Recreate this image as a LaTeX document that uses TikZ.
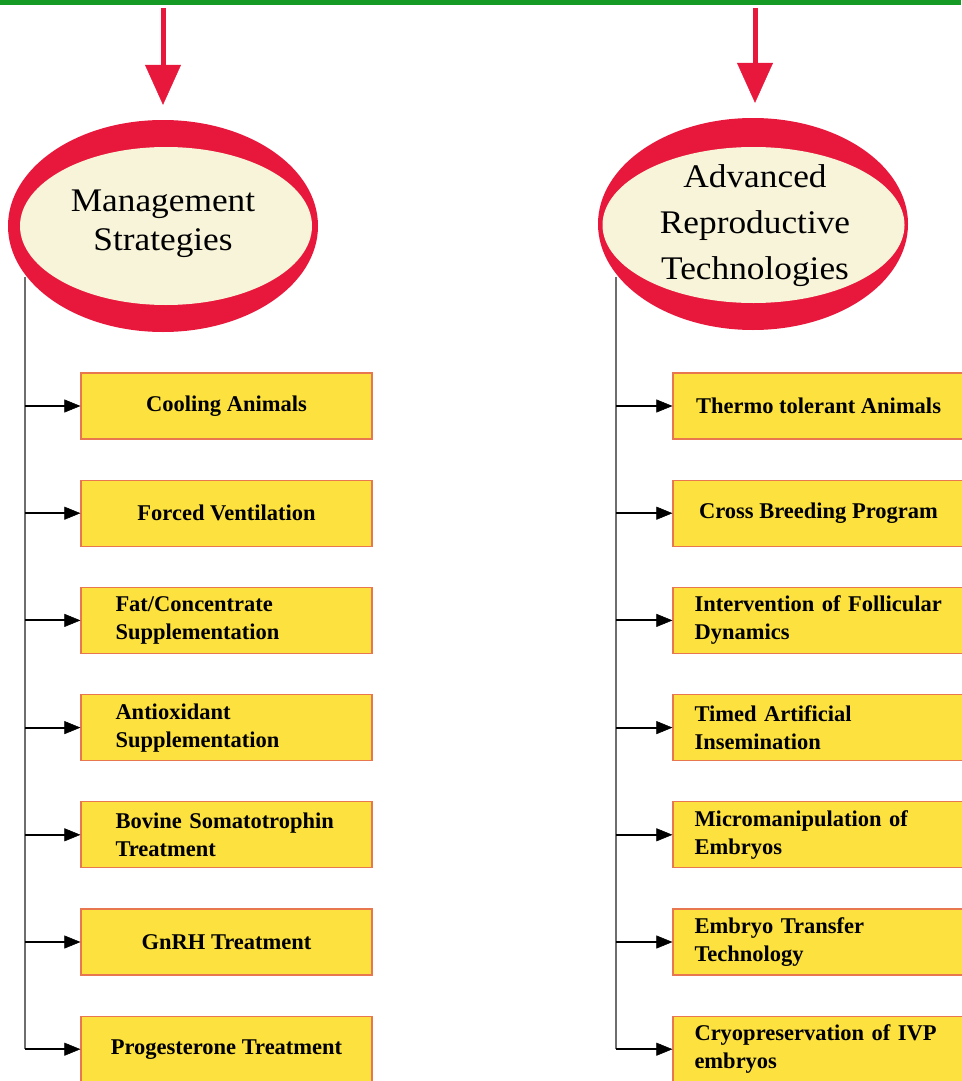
\documentclass[tikz,border=0pt]{standalone}
\usepackage{fontspec}
\setmainfont{Liberation Serif}
\newfontfamily\ovalfont[FakeStretch=1.07]{Liberation Serif}
\usetikzlibrary{shapes.geometric,arrows.meta,positioning}

\definecolor{ovalred}{HTML}{E8173C}
\definecolor{ovalcream}{HTML}{F8F4DA}
\definecolor{boxfill}{HTML}{FDE23F}
\definecolor{boxedge}{HTML}{E8764E}
\definecolor{trunkgray}{HTML}{6E6E6E}
\definecolor{topgreen}{HTML}{159A25}

\tikzset{
  oval/.style={ellipse, fill=ovalred, inner sep=0pt, minimum width=310pt, minimum height=212pt},
  ovalin/.style={ellipse, fill=ovalcream, inner sep=0pt},
  ovaltext/.style={inner sep=0pt, align=center},
  feed/.style={ovalred, line width=5pt, shorten >=15pt,
    -{Triangle[length=40pt,width=36pt,line width=0.5pt]}},
  trunk/.style={trunkgray, line width=2pt},
  branch/.style={black, line width=2pt, -{Triangle[length=16pt,width=13pt,line width=0.5pt]}},
  topic/.style={draw=boxedge, fill=boxfill, line width=1.2pt, minimum width=291pt,
    minimum height=66pt, inner sep=0pt, align=center,
    font=\bfseries\fontsize{22.5}{28}\selectfont},
  mbox/.style={topic, text width=222pt, align=left},
  abox/.style={topic, text width=248pt, align=left}
}

\begin{document}
\begin{tikzpicture}[x=1pt,y=-1pt]
  \useasboundingbox (0,0) rectangle (961,1081);
  \fill[white] (0,0) rectangle (961,1081);
  \fill[topgreen] (0,0) rectangle (961,5);

  % the two ovals
  \node[oval] (ms) at (163,226) {};
  \node[ovalin, minimum width=292pt, minimum height=158pt] (msin) at (166,226) {};
  \node[ovaltext, font=\ovalfont\fontsize{33}{39}\selectfont] (mstext) at (163,224) {Management\\Strategies};

  \node[oval] (ar) at (753,224) {};
  \node[ovalin, minimum width=302pt, minimum height=156pt] (arin) at (753.5,225) {};
  \node[ovaltext, font=\ovalfont\fontsize{33}{46}\selectfont] (artext) at (755,226) {Advanced\\Reproductive\\Technologies};

  \coordinate (mtop) at (163,8);
  \coordinate (atop) at (755,8);
  \draw[feed] (mtop) -- (mtop |- ms.north);
  \draw[feed] (atop) -- (atop |- ar.north);

  % management strategies
  \node[topic] (m1) at (226.5,406) {Cooling Animals};
  \node[topic, below=40pt of m1] (m2) {Forced Ventilation};
  \node[mbox, below=40pt of m2] (m3) {Fat/Concentrate\\Supplementation};
  \node[mbox, below=40pt of m3] (m4) {Antioxidant\\Supplementation};
  \node[mbox, below=40pt of m4] (m5) {Bovine Somatotrophin\\Treatment};
  \node[topic, below=40pt of m5] (m6) {GnRH Treatment};
  \node[topic, below=40pt of m6] (m7) {Progesterone Treatment};

  % advanced reproductive technologies
  \node[topic] (a1) at (818.5,406) {Thermo tolerant Animals};
  \node[topic, below=40pt of a1] (a2) {Cross Breeding Program};
  \node[abox, below=40pt of a2] (a3) {Intervention of Follicular\\Dynamics};
  \node[abox, below=40pt of a3] (a4) {Timed Artificial\\Insemination};
  \node[abox, below=40pt of a4] (a5) {Micromanipulation of\\Embryos};
  \node[abox, below=40pt of a5] (a6) {Embryo Transfer\\Technology};
  \node[abox, below=40pt of a6] (a7) {Cryopreservation of IVP\\embryos};

  \coordinate (mroot) at (25,277);
  \coordinate (aroot) at (616,277);
  \draw[trunk] (mroot) -- (mroot |- m7.west);
  \draw[trunk] (aroot) -- (aroot |- a7.west);
  \foreach \i in {1,...,7} {
    \draw[branch] (mroot |- m\i.west) -- (m\i.west);
    \draw[branch] (aroot |- a\i.west) -- (a\i.west);
  }
\end{tikzpicture}
\end{document}
